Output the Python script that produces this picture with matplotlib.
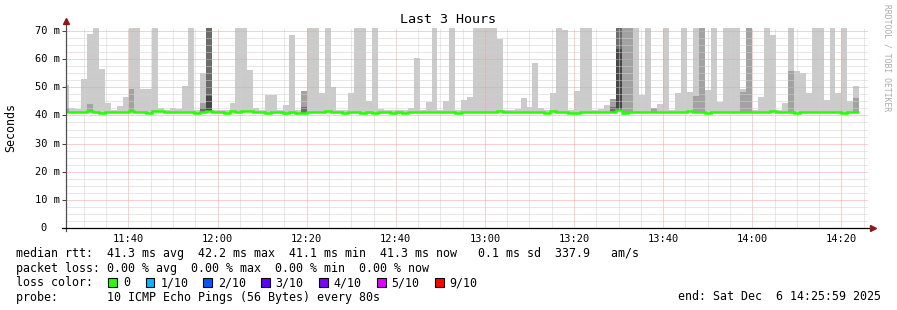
import matplotlib
matplotlib.use("Agg")
import numpy as np
import matplotlib.pyplot as plt
from matplotlib import transforms
from matplotlib.ticker import MultipleLocator, FuncFormatter

plt.rcParams['font.family'] = ['DejaVu Sans Mono']

# time axis: minutes since midnight
t_start = 11 * 60 + 25 + 59 / 60      # 11:25:59
t_end = 14 * 60 + 25 + 59 / 60        # 14:25:59
t_first_step = 11 * 60 + 26 + 41 / 60 # first 80 s step boundary
step_min = 80 / 60

# max rtt per 80 s step (ms); values above the top of the graph are clipped
max_rtt = [
    50.8, 42.6, 42.3, 53.0, 68.9, 75, 56.5, 44.4, 41.8, 43.4,
    46.6, 75, 75, 49.4, 49.4, 75, 42.5, 41.8, 42.6, 42.2,
    50.5, 75, 41.8, 55.1, 75, 41.8, 41.8, 42.0, 44.4, 75,
    75, 56.2, 42.6, 41.8, 47.3, 47.3, 41.8, 43.8, 68.6, 41.8,
    48.8, 75, 75, 48.1, 75, 50.1, 41.8, 41.8, 48.1, 75,
    75, 45.2, 75, 42.2, 41.8, 41.8, 41.8, 41.8, 42.8, 60.3,
    41.8, 44.9, 75, 41.8, 45.2, 75, 41.8, 45.4, 46.4, 75,
    75, 75, 75, 67.2, 41.8, 41.8, 42.3, 46.3, 43.0, 58.7,
    42.6, 41.8, 48.1, 75, 70.4, 41.8, 48.7, 75, 75, 41.8,
    42.2, 43.7, 45.8, 75, 75, 75, 75, 47.3, 75, 42.2,
    44.1, 75, 41.8, 48.1, 75, 48.5, 75, 75, 49.0, 75,
    44.8, 75, 75, 75, 49.4, 75, 41.8, 46.6, 75, 68.6,
    41.8, 44.4, 75, 55.9, 55.2, 48.0, 75, 75, 45.4, 75,
    48.0, 75, 45.0, 50.3,
]

# inner smoke bands (step index -> top of band, ms)
band2 = {0: 42.5, 4: 44.0, 11: 49.4, 23: 44.4, 24: 75, 40: 48.8, 92: 45.8,
         93: 75, 94: 75, 95: 75, 99: 42.6, 106: 46.9, 107: 75, 114: 48.4,
         115: 75, 122: 55.9, 133: 46.2}
band3 = {23: 42.5, 24: 75, 40: 43.0, 92: 43.0, 93: 75}
band4 = {24: 47.0, 93: 63.6}

# median rtt per step (ms)
median = [
    41.3, 41.3, 41.3, 41.3, 41.75, 41.3, 40.85, 41.3, 41.3, 41.3,
    41.3, 41.75, 41.3, 41.3, 40.85, 41.75, 41.75, 41.3, 41.3, 41.3,
    41.3, 41.3, 40.85, 41.3, 41.75, 41.3, 41.3, 40.85, 41.75, 41.3,
    41.75, 41.75, 41.3, 41.3, 40.85, 41.3, 41.3, 40.85, 41.3, 40.85,
    40.85, 41.3, 41.3, 41.3, 41.75, 41.3, 41.3, 40.85, 41.3, 41.3,
    40.85, 41.3, 40.85, 41.3, 41.3, 40.85, 41.3, 40.85, 41.3, 41.3,
    41.3, 41.3, 41.3, 41.3, 41.3, 41.3, 40.85, 41.3, 41.3, 41.3,
    41.3, 41.3, 41.3, 41.75, 41.3, 41.3, 41.3, 41.3, 41.3, 41.3,
    41.3, 40.85, 41.75, 41.3, 41.3, 40.85, 40.85, 41.3, 41.3, 41.3,
    41.3, 41.3, 41.3, 42.0, 40.85, 41.3, 41.3, 41.3, 41.3, 41.3,
    41.3, 41.3, 41.3, 41.3, 41.3, 41.75, 41.3, 41.3, 40.85, 41.3,
    41.3, 41.3, 41.3, 41.3, 41.3, 41.3, 41.3, 41.3, 41.3, 41.75,
    41.3, 41.3, 41.3, 40.85, 41.3, 41.3, 41.3, 41.3, 41.3, 41.3,
    41.3, 40.85, 41.3, 41.3,
]

# legend values
med_avg, med_max, med_min, med_now, med_sd, am_s = 41.3, 42.2, 41.1, 41.3, 0.1, 337.9
loss_avg, loss_max, loss_min, loss_now = 0.0, 0.0, 0.0, 0.0
loss_labels = ["0", "1/10", "2/10", "3/10", "4/10", "5/10", "9/10"]
loss_colors = ["#26ff00", "#00b8ff", "#0059ff", "#5e00ff", "#7e00ff", "#dd00ff", "#ff0000"]
probe_text = "10 ICMP Echo Pings (56 Bytes) every 80s"
end_text = "end: Sat Dec  6 14:25:59 2025"

W, H = 897, 310
fig = plt.figure(figsize=(W / 100, H / 100), dpi=100, facecolor="white")
ax = fig.add_axes([66 / W, (H - 228) / H, 802 / W, 200 / H])

n = len(max_rtt)
edges = np.concatenate([[t_start], t_first_step + step_min * np.arange(n)])
lefts = edges[:-1]
widths = np.diff(edges)
med = np.array(median)

ax.bar(lefts, np.array(max_rtt) - med, width=widths, bottom=med, align="edge",
       color="#cbcbcb", linewidth=0, zorder=1)
for band, col in [(band2, "#a2a2a2"), (band3, "#6c6c6c"), (band4, "#464646")]:
    idx = np.array(list(band.keys()))
    tops = np.array(list(band.values()))
    ax.bar(lefts[idx], tops - med[idx], width=widths[idx], bottom=med[idx],
           align="edge", color=col, linewidth=0, zorder=1.2)

ax.stairs(med, edges, baseline=None, color="#26ff00", linewidth=1.8, zorder=3)

ax.set_xlim(t_start, t_end)
ax.set_ylim(0, 71.07)

ax.xaxis.set_major_locator(MultipleLocator(20))
ax.xaxis.set_minor_locator(MultipleLocator(5))
ax.yaxis.set_major_locator(MultipleLocator(10))
ax.yaxis.set_minor_locator(MultipleLocator(2.5))
ax.xaxis.set_major_formatter(FuncFormatter(lambda v, p: "%02d:%02d" % (int(v // 60), int(round(v % 60)))))
ax.tick_params(axis="x", which="both", length=0, pad=4.3, labelsize=7.5, colors="black")
ax.tick_params(axis="y", which="major", length=3, width=0.7, color="#404040", labelleft=False)
ax.tick_params(axis="y", which="minor", length=0)

ax.grid(which="major", color="#f4a0a0", linestyle=(0, (1, 1)), linewidth=0.72, zorder=2.5)
ax.grid(which="minor", color="#d0d0d0", linestyle=(0, (1, 1)), linewidth=0.72, zorder=2.5)
ax.set_axisbelow(False)

for s in ax.spines.values():
    s.set_visible(False)

# axes with arrows
ax.plot([0, 0], [-3 / 200, 1.02], transform=ax.transAxes, color="#505050",
        linewidth=0.9, clip_on=False, zorder=4)
ax.plot([-4 / 802, 1.003], [0, 0], transform=ax.transAxes, color="black",
        linewidth=0.9, clip_on=False, zorder=4)
ax.plot([0], [1 + 7 / 200], marker="^", markersize=4, color="#8b1a1a",
        transform=ax.transAxes, clip_on=False, zorder=5)
ax.plot([1 + 5 / 802], [0], marker=">", markersize=4, color="#8b1a1a",
        transform=ax.transAxes, clip_on=False, zorder=5)

# y tick labels
ytrans = transforms.blended_transform_factory(ax.transAxes, ax.transData)
for v in range(0, 71, 10):
    lab = "0" if v == 0 else "%d m" % v
    xpos = -19 / 802 if v == 0 else -6 / 802
    ax.text(xpos, v, lab, transform=ytrans, ha="right", va="center", fontsize=7.5)

fig.text(11 / W, 1 - 127 / H, "Seconds", rotation=90, ha="center", va="center", fontsize=8.4)
fig.text(447.5 / W, 1 - 23.3 / H, "Last 3 Hours", ha="center", va="baseline", fontsize=9.6)
fig.text(887 / W, 1 - 58 / H, "RRDTOOL / TOBI OETIKER", rotation=270, ha="center",
         va="center", fontsize=5.8, color="#aaaaaa")

fs = 8.37
row1 = "median rtt:  %.1f ms avg  %.1f ms max  %.1f ms min  %.1f ms now   %.1f ms sd  %.1f   am/s" % (
    med_avg, med_max, med_min, med_now, med_sd, am_s)
row2 = "packet loss: %.2f %% avg  %.2f %% max  %.2f %% min  %.2f %% now" % (
    loss_avg, loss_max, loss_min, loss_now)
fig.text(16 / W, 1 - 257.5 / H, row1, va="baseline", fontsize=fs)
fig.text(16 / W, 1 - 272 / H, row2, va="baseline", fontsize=fs)
fig.text(16 / W, 1 - 286.3 / H, "loss color:", va="baseline", fontsize=fs)
fig.text(16 / W, 1 - 300.5 / H, "probe:       " + probe_text, va="baseline", fontsize=fs)
fig.text(881 / W, 1 - 300.5 / H, end_text, ha="right", va="baseline", fontsize=fs)

box_x = [108.3, 145.7, 203.3, 261, 319, 377, 435]
for bx, lab, col in zip(box_x, loss_labels, loss_colors):
    fig.patches.append(plt.Rectangle((bx / W, 1 - 286.7 / H), 8.5 / W, 8.5 / H,
                                     transform=fig.transFigure, facecolor=col,
                                     edgecolor="black", linewidth=0.8))
    fig.text((bx + 14.5) / W, 1 - 286.3 / H, lab, va="baseline", fontsize=fs)

fig.savefig("out.png", dpi=100, facecolor="white")
